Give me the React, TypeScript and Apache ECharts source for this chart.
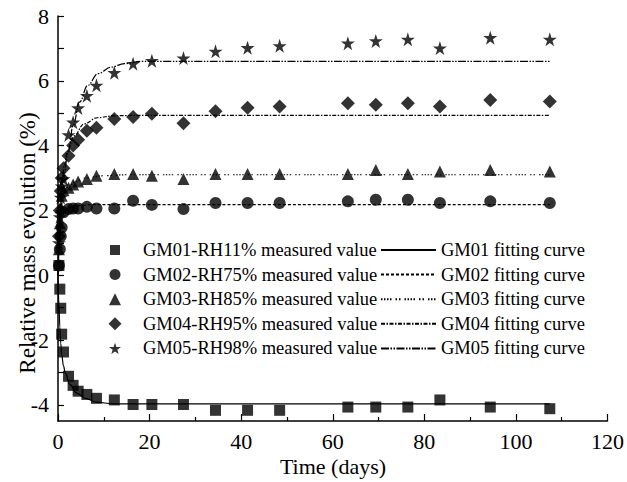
import React, { useEffect, useRef } from "react";
import * as echarts from "echarts";

const days = [0.2, 0.4, 0.6, 0.8, 1.2, 2.3, 3.3, 4.4, 6.3, 8.4, 12.3, 16.4, 20.5, 27.4, 34.4, 41.4, 48.4, 63.3, 69.4, 76.4, 83.4, 94.4, 107.4];
const gm01Measured = [0.3, -0.43, -1.02, -1.82, -2.37, -3.12, -3.4, -3.58, -3.68, -3.8, -3.85, -3.99, -3.99, -3.99, -4.17, -4.17, -4.17, -4.07, -4.07, -4.07, -3.85, -4.07, -4.12];
const gm02Measured = [0.3, 0.8, 1.2, 1.47, 1.94, 2.04, 2.06, 2.06, 2.11, 2.06, 2.06, 2.3, 2.17, 2.04, 2.23, 2.23, 2.23, 2.28, 2.33, 2.33, 2.23, 2.28, 2.23];
const gm03Measured = [0.8, 1.6, 2.1, 2.45, 2.62, 2.7, 2.8, 2.89, 2.97, 3.07, 3.12, 3.12, 3.07, 2.97, 3.12, 3.12, 3.12, 3.12, 3.25, 3.12, 3.2, 3.25, 3.2];
const gm04Measured = [1.2, 2.0, 2.6, 3.0, 3.3, 3.69, 4.0, 4.18, 4.46, 4.55, 4.82, 4.88, 4.98, 4.69, 5.06, 5.17, 5.21, 5.31, 5.26, 5.31, 5.21, 5.41, 5.36];
const gm05Measured = [1.0, 1.8, 2.4, 2.75, 2.97, 4.33, 4.72, 5.16, 5.54, 5.86, 6.25, 6.53, 6.62, 6.7, 6.91, 7.02, 7.08, 7.16, 7.23, 7.28, 7.01, 7.33, 7.28];

const fit01Days = [0, 0.2, 0.4, 0.6, 0.8, 1.2, 1.6, 2.6, 4, 6, 8.4, 12, 16, 107.4];
const fit01 = [0, -0.9, -1.6, -2.1, -2.45, -2.8, -3.02, -3.37, -3.63, -3.8, -3.92, -3.97, -3.97, -3.97];
const fit02Days = [0, 0.2, 0.5, 1, 2, 4, 8, 107.4];
const fit02 = [0, 0.7, 1.4, 1.85, 2.08, 2.15, 2.18, 2.18];
const fit03Days = [0, 0.2, 0.5, 1, 2, 4, 6, 10, 15, 107.4];
const fit03 = [0, 0.9, 1.8, 2.4, 2.7, 2.9, 3.0, 3.07, 3.1, 3.1];
const fit04Days = [0, 0.3, 0.6, 0.9, 1.4, 2, 3.5, 5.7, 8.6, 12.2, 16, 107.4];
const fit04 = [0, 1.2, 2.2, 2.9, 3.4, 3.8, 4.3, 4.67, 4.86, 4.92, 4.93, 4.93];
const fit05Days = [0, 0.3, 0.6, 1.1, 2.2, 3.3, 4.7, 6.5, 8.7, 11.6, 14.5, 18.2, 107.4];
const fit05 = [0, 1.0, 1.8, 2.87, 3.79, 4.62, 5.34, 5.86, 6.22, 6.42, 6.53, 6.6, 6.6];

const measuredNames = [
  "GM01-RH11% measured value",
  "GM02-RH75% measured value",
  "GM03-RH85% measured value",
  "GM04-RH95% measured value",
  "GM05-RH98% measured value",
];
const fitNames = [
  "GM01 fitting curve",
  "GM02 fitting curve",
  "GM03 fitting curve",
  "GM04 fitting curve",
  "GM05 fitting curve",
];
const yLabelValues = [-4, -2, 0, 2, 4, 6, 8];
const yTickValues = [-4, -3, -2, -1, 0, 1, 2, 3, 4, 5, 6, 7, 8];

const STAR = "path://M50,0 L61.2,34.5 L97.6,34.5 L68.2,55.9 L79.4,90.5 L50,69.1 L20.6,90.5 L31.8,55.9 L2.4,34.5 L38.8,34.5 Z";
const FONT = "Liberation Serif";

export default function App() {
  const ref = useRef<HTMLDivElement>(null);
  useEffect(() => {
    if (!ref.current) return;
    const chart = echarts.init(ref.current, undefined, { renderer: "svg" });
    const measured = [gm01Measured, gm02Measured, gm03Measured, gm04Measured, gm05Measured];
    const symbols = ["rect", "circle", "triangle", "diamond", STAR];
    const sizes = [11, 12, 12, 14, 14];
    const legendSizes = [10, 11, 12, 13, 12];
    const fits: [number[], number[]][] = [
      [fit01Days, fit01],
      [fit02Days, fit02],
      [fit03Days, fit03],
      [fit04Days, fit04],
      [fit05Days, fit05],
    ];
    const dashes: any[] = [
      "solid",
      [3, 2],
      [1.5, 1.5, 1.5, 1.5, 1.5, 1.5, 1.5, 4, 1.5, 2, 1.5, 4],
      [4, 1.5, 1.5, 1.5],
      [8, 1.5, 1.5, 1.5, 1.5, 1.5],
    ];
    const series: any[] = [];
    measured.forEach((vals, i) => {
      series.push({
        name: measuredNames[i],
        type: "scatter",
        symbol: symbols[i],
        symbolSize: sizes[i],
        itemStyle: { color: "#000" },
        data: days.map((d, j) => [d, vals[j]]),
        z: 3,
      });
    });
    fits.forEach(([xs, ys], i) => {
      series.push({
        name: fitNames[i],
        type: "line",
        symbol: "none",
        showSymbol: false,
        symbolSize: 0,
        smooth: 0.4,
        smoothMonotone: "x",
        lineStyle: { color: "#000", width: 1.2, type: dashes[i] },
        itemStyle: { color: "#000" },
        data: xs.map((d, j) => [d, ys[j]]),
        z: 2,
      });
    });
    const legendText = { fontFamily: FONT, fontSize: 18.5, color: "#000", lineHeight: 20 };
    const leftLegends = measuredNames.map((n, i) => ({
      data: [{ name: n, icon: symbols[i] }],
      orient: "vertical",
      left: 110 - legendSizes[i] / 2,
      top: 235 + i * 24.6,
      itemWidth: legendSizes[i],
      itemHeight: legendSizes[i],
      selectedMode: false,
      textStyle: { ...legendText, padding: [0, 0, 0, 23 - legendSizes[i] / 2] },
    }));
    chart.setOption({
      animation: false,
      grid: { left: 58, right: 19, top: 16, bottom: 61, containLabel: false },
      legend: [
        ...leftLegends,
        {
          data: fitNames,
          orient: "vertical",
          left: 375,
          top: 235,
          itemWidth: 55,
          itemHeight: 12,
          itemGap: 4.6,
          selectedMode: false,
          itemStyle: { color: "rgba(0,0,0,0)", borderWidth: 0, opacity: 0 },
          textStyle: legendText,
        },
      ],
      xAxis: {
        type: "value",
        min: 0,
        max: 120,
        interval: 20,
        axisLine: { onZero: false, lineStyle: { color: "#000", width: 1.5 } },
        axisTick: { inside: true, length: 7, lineStyle: { color: "#000", width: 1.2 } },
        minorTick: { show: true, splitNumber: 2, length: 4, lineStyle: { color: "#000", width: 1.2 } },
        axisLabel: { fontFamily: FONT, fontSize: 22, color: "#000", margin: 9 },
        splitLine: { show: false },
      },
      yAxis: {
        type: "value",
        min: -4.5,
        max: 8,
        axisLine: { show: true, onZero: false, lineStyle: { color: "#000", width: 1.5 } },
        axisTick: {
          show: true,
          inside: true,
          length: 6,
          customValues: yTickValues,
          lineStyle: { color: "#000", width: 1.2 },
        },
        axisLabel: {
          fontFamily: FONT,
          fontSize: 22,
          color: "#000",
          margin: 9,
          customValues: yLabelValues,
        },
        splitLine: { show: false },
      },
      graphic: [
        {
          type: "text",
          x: 27,
          y: 243,
          rotation: Math.PI / 2,
          style: {
            text: "Relative mass evolution (%)",
            fontFamily: FONT,
            fontSize: 23,
            fill: "#000",
            textAlign: "center",
            textVerticalAlign: "middle",
          },
        },
        {
          type: "text",
          x: 333,
          y: 466,
          style: {
            text: "Time (days)",
            fontFamily: FONT,
            fontSize: 22,
            fill: "#000",
            textAlign: "center",
            textVerticalAlign: "middle",
          },
        },
      ],
      series,
    });
    return () => chart.dispose();
  }, []);
  return (
    <div
      ref={ref}
      style={{ position: "fixed", left: 0, top: 0, width: 627, height: 482, background: "#fff" }}
    />
  );
}
